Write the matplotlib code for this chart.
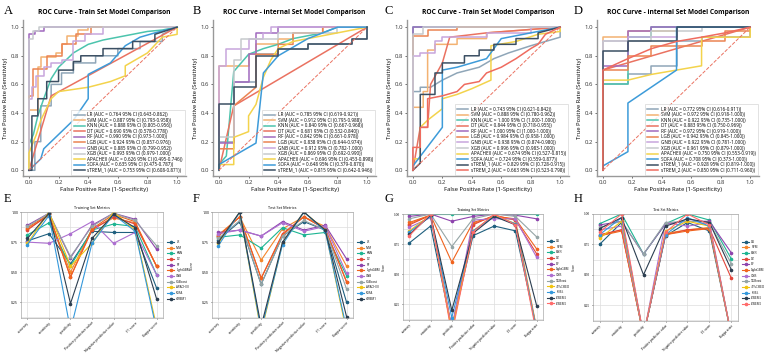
import matplotlib
matplotlib.use('Agg')
import matplotlib.pyplot as plt
from matplotlib.ticker import MultipleLocator

# ---------------- ROC data (vertices) ----------------
roc_models_11 = ['LR', 'SVM', 'KNN', 'DT', 'RF', 'LGB', 'GNB', 'XGB', 'APACHEII', 'SOFA', 'sTREM_1']
roc_models_12 = roc_models_11 + ['sTREM_2']
roc_colors = ['#8fa6b8', '#f3b272', '#4cc4ad', '#ea7261', '#a169be', '#eb8452',
              '#c8a6dc', '#c6cacd', '#f3d34c', '#3d9bd9', '#3b4f63', '#ef6b5f']

a_auc = ['0.764', '0.887', '0.888', '0.690', '0.990', '0.924', '0.885', '0.993', '0.626', '0.635', '0.753']
a_ci = ['0.643-0.862', '0.793-0.958', '0.805-0.956', '0.578-0.778', '0.973-1.000', '0.857-0.976',
        '0.799-0.952', '0.979-1.000', '0.495-0.746', '0.475-0.787', '0.608-0.871']
b_auc = ['0.785', '0.912', '0.840', '0.681', '0.842', '0.838', '0.912', '0.869', '0.696', '0.648', '0.815']
b_ci = ['0.619-0.921', '0.795-0.988', '0.667-0.968', '0.532-0.840', '0.661-0.978', '0.644-0.974',
        '0.782-1.000', '0.692-0.990', '0.453-0.898', '0.379-0.870', '0.642-0.946']
c_auc = ['0.743', '0.888', '1.000', '0.844', '1.000', '0.984', '0.938', '0.996', '0.674', '0.724', '0.829', '0.663']
c_ci = ['0.621-0.842', '0.780-0.962', '1.000-1.000', '0.718-0.955', '1.000-1.000', '0.958-1.000',
        '0.874-0.980', '0.983-1.000', '0.527-0.815', '0.559-0.877', '0.728-0.915', '0.523-0.798']
d_auc = ['0.772', '0.972', '0.922', '0.883', '0.972', '0.942', '0.922', '0.961', '0.750', '0.708', '0.928', '0.850']
d_ci = ['0.616-0.911', '0.918-1.000', '0.735-1.000', '0.750-0.969', '0.919-1.000', '0.845-1.000',
        '0.781-1.000', '0.879-1.000', '0.553-0.919', '0.373-1.000', '0.819-1.000', '0.711-0.960']

roc_a = [
    [[0, 0], [0.04, 0], [0.04, 0.2], [0.08, 0.2], [0.08, 0.45], [0.15, 0.45], [0.15, 0.6], [0.22, 0.6], [0.22, 0.68], [0.3, 0.68], [0.3, 0.75], [0.45, 0.75], [0.45, 0.8], [0.6, 0.8], [0.6, 0.85], [0.75, 0.85], [0.75, 0.9], [0.9, 0.9], [0.9, 0.95], [1, 1]],
    [[0, 0], [0, 0.42], [0.06, 0.42], [0.06, 0.72], [0.08, 0.72], [0.08, 0.79], [0.18, 0.79], [0.18, 0.82], [0.22, 0.82], [0.22, 0.88], [0.26, 0.88], [0.26, 0.94], [0.33, 0.94], [0.33, 0.98], [0.4, 0.98], [0.4, 1], [1, 1]],
    [[0, 0], [0, 0.18], [0.03, 0.25], [0.06, 0.38], [0.1, 0.5], [0.15, 0.64], [0.2, 0.72], [0.25, 0.77], [0.3, 0.82], [0.4, 0.88], [0.5, 0.91], [0.6, 0.93], [0.7, 0.95], [0.8, 0.97], [0.9, 0.98], [1, 1]],
    [[0, 0], [0.15, 0.52], [1, 1]],
    [[0, 0], [0, 0.95], [0.04, 0.95], [0.04, 0.97], [0.1, 0.97], [0.1, 1], [1, 1]],
    [[0, 0], [0, 0.52], [0.03, 0.52], [0.03, 0.71], [0.12, 0.71], [0.12, 0.8], [0.22, 0.8], [0.22, 0.88], [0.32, 0.88], [0.32, 0.95], [0.42, 0.95], [0.42, 1], [1, 1]],
    [[0, 0], [0, 0.5], [0.02, 0.5], [0.02, 0.58], [0.05, 0.58], [0.05, 0.66], [0.1, 0.66], [0.1, 0.72], [0.15, 0.72], [0.15, 0.75], [0.22, 0.75], [0.22, 0.77], [0.3, 0.77], [0.3, 0.9], [0.38, 0.9], [0.38, 0.95], [0.5, 0.95], [0.5, 1], [1, 1]],
    [[0, 0], [0, 0.92], [0.03, 0.92], [0.03, 0.97], [0.07, 0.97], [0.07, 1], [1, 1]],
    [[0, 0], [0, 0.12], [0.05, 0.25], [0.08, 0.35], [0.15, 0.5], [0.2, 0.55], [0.4, 0.58], [0.55, 0.62], [0.65, 0.66], [0.65, 0.73], [0.8, 0.82], [0.9, 0.93], [1, 0.95], [1, 1]],
    [[0, 0], [0.08, 0.08], [0.1, 0.15], [0.2, 0.25], [0.3, 0.35], [0.4, 0.5], [0.4, 0.67], [0.55, 0.75], [0.65, 0.87], [0.75, 0.93], [0.85, 0.96], [1, 1]],
    [[0, 0], [0.02, 0], [0.02, 0.38], [0.06, 0.38], [0.06, 0.5], [0.12, 0.5], [0.12, 0.62], [0.2, 0.62], [0.2, 0.7], [0.3, 0.7], [0.3, 0.76], [0.35, 0.76], [0.35, 0.8], [0.5, 0.8], [0.5, 0.85], [0.7, 0.85], [0.7, 0.9], [0.85, 0.9], [0.85, 0.95], [1, 1]],
]

roc_b = [
    [[0, 0], [0, 0.2], [0.1, 0.2], [0.1, 0.62], [0.25, 0.62], [0.25, 0.81], [0.4, 0.81], [0.4, 0.85], [0.6, 0.85], [0.6, 0.88], [0.9, 0.88], [0.9, 0.92], [1, 0.92], [1, 1]],
    [[0, 0], [0, 0.73], [0.2, 0.73], [0.2, 0.81], [0.25, 0.81], [0.25, 0.88], [0.4, 0.88], [0.4, 0.92], [0.5, 0.92], [0.5, 0.96], [0.7, 0.96], [0.7, 1], [1, 1]],
    [[0, 0], [0, 0.04], [0.05, 0.1], [0.1, 0.69], [0.2, 0.81], [0.3, 0.85], [0.4, 0.88], [0.5, 0.92], [0.7, 0.96], [0.8, 1], [1, 1]],
    [[0, 0], [0.1, 0.45], [1, 1]],
    [[0, 0], [0, 0.19], [0.1, 0.19], [0.1, 0.62], [0.2, 0.62], [0.2, 0.81], [0.25, 0.81], [0.25, 0.96], [0.4, 0.96], [0.4, 1], [1, 1]],
    [[0, 0], [0, 0.15], [0.1, 0.15], [0.1, 0.45], [0.25, 0.58], [0.25, 0.81], [0.4, 0.81], [0.4, 0.88], [0.5, 0.88], [0.5, 0.96], [0.7, 0.96], [0.7, 1], [1, 1]],
    [[0, 0], [0, 0.73], [0.05, 0.73], [0.05, 0.85], [0.2, 0.85], [0.2, 0.92], [0.3, 0.92], [0.3, 0.96], [0.35, 0.96], [0.35, 1], [1, 1]],
    [[0, 0], [0, 0.23], [0.1, 0.23], [0.1, 0.77], [0.15, 0.77], [0.15, 0.92], [0.4, 0.92], [0.4, 0.96], [0.8, 0.96], [0.8, 1], [1, 1]],
    [[0, 0], [0, 0.04], [0.1, 0.04], [0.1, 0.23], [0.2, 0.27], [0.2, 0.38], [0.25, 0.46], [0.3, 0.65], [0.35, 0.77], [0.4, 0.85], [0.5, 0.9], [0.6, 0.92], [0.8, 0.96], [1, 1]],
    [[0, 0], [0, 0.04], [0.25, 0.19], [0.3, 0.68], [0.4, 0.8], [0.5, 0.86], [0.6, 0.92], [0.7, 0.96], [0.8, 1], [1, 1]],
    [[0, 0], [0, 0.46], [0.1, 0.46], [0.1, 0.58], [0.25, 0.58], [0.25, 0.8], [0.4, 0.8], [0.4, 0.85], [0.6, 0.85], [0.6, 0.88], [0.9, 0.88], [0.9, 0.92], [1, 0.92], [1, 1]],
]

roc_c = [
    [[0, 0], [0, 0.55], [0.05, 0.55], [0.05, 0.58], [0.12, 0.58], [0.2, 0.63], [0.3, 0.68], [0.45, 0.72], [0.55, 0.78], [0.65, 0.82], [0.8, 0.87], [0.9, 0.9], [1, 0.93], [1, 1]],
    [[0, 0], [0, 0.44], [0.07, 0.44], [0.07, 0.55], [0.1, 0.55], [0.1, 0.84], [0.15, 0.84], [0.15, 0.88], [0.3, 0.88], [0.3, 0.92], [0.5, 0.92], [0.5, 0.96], [1, 1]],
    [[0, 0], [0, 1], [1, 1]],
    [[0, 0], [0.05, 0.3], [0.1, 0.3], [0.12, 0.6], [0.2, 0.75], [0.25, 0.93], [0.5, 0.96], [1, 1]],
    [[0, 0], [0, 1], [1, 1]],
    [[0, 0], [0, 0.94], [0.1, 0.94], [0.1, 0.98], [0.3, 0.98], [0.3, 1], [1, 1]],
    [[0, 0], [0, 0.8], [0.05, 0.8], [0.05, 0.82], [0.15, 0.82], [0.15, 0.9], [0.2, 0.9], [0.2, 0.93], [0.5, 0.93], [0.5, 0.96], [0.8, 0.96], [0.8, 1], [1, 1]],
    [[0, 0], [0, 0.95], [0.07, 0.95], [0.07, 1], [1, 1]],
    [[0, 0], [0, 0.08], [0.05, 0.08], [0.05, 0.3], [0.1, 0.35], [0.2, 0.43], [0.2, 0.5], [0.3, 0.53], [0.4, 0.57], [0.53, 0.63], [0.53, 0.87], [0.7, 0.9], [0.85, 0.95], [1, 0.97], [1, 1]],
    [[0, 0], [0, 0.03], [0.2, 0.3], [0.2, 0.7], [0.3, 0.72], [0.4, 0.75], [0.5, 0.78], [0.6, 0.92], [0.7, 0.94], [0.8, 0.96], [1, 1]],
    [[0, 0], [0.05, 0.05], [0.05, 0.53], [0.15, 0.53], [0.15, 0.68], [0.2, 0.68], [0.2, 0.75], [0.35, 0.75], [0.35, 0.8], [0.45, 0.8], [0.45, 0.84], [0.55, 0.84], [0.55, 0.88], [0.7, 0.88], [0.7, 0.92], [0.85, 0.92], [0.85, 0.96], [1, 1]],
    [[0, 0], [0, 0.16], [0.05, 0.16], [0.05, 0.3], [0.1, 0.3], [0.1, 0.5], [0.2, 0.52], [0.3, 0.55], [0.35, 0.6], [0.45, 0.62], [0.5, 0.68], [0.6, 0.72], [0.7, 0.78], [0.8, 0.85], [0.85, 0.88], [0.9, 0.95], [1, 1]],
]

roc_d = [
    [[0, 0], [0, 0.6], [0.17, 0.6], [0.17, 0.67], [0.33, 0.67], [0.33, 0.73], [0.5, 0.73], [0.5, 0.9], [0.67, 0.9], [0.67, 0.93], [1, 0.93], [1, 1]],
    [[0, 0], [0, 0.93], [0.17, 0.93], [0.17, 0.97], [0.5, 0.97], [0.5, 1], [1, 1]],
    [[0, 0], [0, 0.6], [0.17, 0.6], [0.17, 0.93], [0.33, 0.93], [0.33, 1], [1, 1]],
    [[0, 0], [0, 0.7], [1, 1]],
    [[0, 0], [0, 0.73], [0.17, 0.73], [0.17, 0.97], [0.33, 0.97], [0.33, 1], [1, 1]],
    [[0, 0], [0, 0.7], [0.17, 0.7], [0.17, 0.8], [0.33, 0.8], [0.33, 0.87], [0.67, 0.87], [0.67, 0.9], [0.83, 0.9], [0.83, 0.97], [1, 0.97], [1, 1]],
    [[0, 0], [0, 0.9], [0.17, 0.9], [0.17, 0.93], [0.5, 0.93], [0.5, 1], [1, 1]],
    [[0, 0], [0, 0.9], [0.33, 0.9], [0.33, 0.97], [0.67, 0.97], [0.67, 1], [1, 1]],
    [[0, 0], [0, 0.63], [0.17, 0.63], [0.33, 0.67], [0.5, 0.7], [0.67, 0.73], [0.67, 0.93], [1, 0.93], [1, 1]],
    [[0, 0], [0, 0.03], [0.17, 0.13], [0.17, 0.47], [0.5, 0.7], [0.5, 1], [1, 1]],
    [[0, 0], [0, 0.83], [0.17, 0.83], [0.17, 0.9], [0.5, 0.9], [0.5, 1], [1, 1]],
    [[0, 0], [0, 0.7], [0.17, 0.78], [0.33, 0.85], [0.5, 0.9], [0.67, 0.93], [0.83, 0.96], [1, 1]],
]

# ---------------- metric data ----------------
metric_names = ['accuracy', 'sensitivity', 'specificity', 'Positive predictive value',
                'Negative predictive value', 'F1 score', 'Kappa score']
met_models_11 = ['LR', 'SVM', 'KNN', 'DT', 'RF', 'LightGBM', 'GNB', 'XGBoost', 'APACHEII', 'SOFA', 'sTREM1']
met_models_12 = met_models_11 + ['sTREM2']
met_colors = ['#1f5f7e', '#f5862b', '#1db592', '#e2453a', '#8e44ad', '#f0631e',
              '#ad6fd0', '#95a5a6', '#f1c40f', '#3498db', '#2c3e50', '#ff6b6b']

e_vals = [
    [0.76, 0.82, 0.57, 0.84, 0.83, 0.83, 0.37],
    [0.86, 0.97, 0.50, 0.86, 0.95, 0.91, 0.55],
    [0.81, 0.91, 0.55, 0.85, 0.90, 0.88, 0.48],
    [0.85, 0.98, 0.46, 0.85, 0.96, 0.90, 0.55],
    [0.89, 0.99, 0.62, 0.89, 0.99, 0.94, 0.69],
    [0.87, 0.98, 0.46, 0.86, 0.98, 0.92, 0.55],
    [0.75, 0.74, 0.82, 0.92, 0.74, 0.83, 0.48],
    [0.88, 0.99, 0.63, 0.88, 0.99, 0.93, 0.72],
    [0.74, 1.00, 0.55, 0.74, 1.00, 0.85, 0.05],
    [0.73, 0.97, 0.02, 0.74, 0.98, 0.84, 0.02],
    [0.78, 0.99, 0.24, 0.78, 0.98, 0.87, 0.28],
]
f_vals = [
    [0.77, 0.92, 0.40, 0.80, 0.92, 0.85, 0.25],
    [0.81, 0.96, 0.60, 0.86, 0.96, 0.88, 0.55],
    [0.79, 0.81, 0.70, 0.87, 0.81, 0.83, 0.47],
    [0.80, 0.96, 0.45, 0.82, 0.96, 0.86, 0.42],
    [0.83, 0.85, 0.80, 0.92, 0.85, 0.89, 0.61],
    [0.80, 0.96, 0.45, 0.81, 0.96, 0.86, 0.42],
    [0.82, 0.85, 0.80, 0.91, 0.84, 0.88, 0.49],
    [0.78, 0.93, 0.40, 0.80, 0.93, 0.85, 0.36],
    [0.74, 1.00, 0.00, 0.74, 1.00, 0.85, 0.00],
    [0.72, 1.00, 0.02, 0.73, 1.00, 0.84, 0.03],
    [0.75, 1.00, 0.05, 0.75, 1.00, 0.85, 0.13],
]
g_vals = [
    [0.76, 0.90, 0.05, 0.82, 0.90, 0.86, 0.05],
    [0.92, 0.99, 0.03, 0.92, 0.98, 0.95, 0.05],
    [1.00, 1.00, 1.00, 1.00, 1.00, 1.00, 1.00],
    [0.91, 0.99, 0.05, 0.91, 0.99, 0.95, 0.67],
    [0.98, 1.00, 0.94, 0.98, 1.00, 0.99, 0.96],
    [0.93, 0.99, 0.60, 0.93, 0.98, 0.96, 0.71],
    [0.89, 0.97, 0.05, 0.95, 0.96, 0.96, 0.64],
    [0.96, 1.00, 0.73, 0.96, 1.00, 0.98, 0.81],
    [0.86, 0.99, 0.02, 0.86, 0.99, 0.92, 0.02],
    [0.85, 0.98, 0.14, 0.86, 0.98, 0.92, 0.03],
    [0.83, 0.99, 0.20, 0.84, 0.98, 0.91, 0.24],
    [0.82, 1.00, 0.00, 0.85, 1.00, 0.91, 0.00],
]
h_vals = [
    [0.75, 0.93, 0.00, 0.82, 0.93, 0.86, 0.00],
    [0.82, 0.87, 0.00, 0.84, 0.87, 0.89, 0.00],
    [0.92, 1.00, 0.67, 0.92, 1.00, 0.95, 0.63],
    [0.83, 0.87, 0.00, 0.83, 0.87, 0.88, 0.47],
    [0.91, 0.94, 0.67, 0.92, 0.94, 0.94, 0.68],
    [0.82, 0.86, 0.00, 0.83, 0.86, 0.88, 0.00],
    [0.87, 0.90, 0.00, 0.93, 0.90, 0.93, 0.00],
    [0.89, 0.94, 0.67, 0.93, 0.94, 0.93, 0.59],
    [0.80, 0.94, 0.00, 0.86, 0.94, 0.90, 0.00],
    [0.83, 0.97, 0.00, 0.83, 0.97, 0.90, 0.00],
    [0.88, 0.97, 0.50, 0.90, 0.96, 0.93, 0.54],
    [0.85, 1.00, 0.00, 0.85, 1.00, 0.91, 0.00],
]

W, H = 767, 353
fig = plt.figure(figsize=(W / 100, H / 100), dpi=100)


def box(l, t, r, b):
    return fig.add_axes([l / W, 1 - b / H, (r - l) / W, (b - t) / H])


sans = ['Open Sans', 'DejaVu Sans']
serif = ['Liberation Serif', 'DejaVu Serif']


def roc_panel(ax, curves, models, aucs, cis, title):
    for pts, m, c, auc, ci in zip(curves, models, roc_colors, aucs, cis):
        xs = [p[0] for p in pts]
        ys = [p[1] for p in pts]
        ax.plot(xs, ys, color=c, lw=1.1, label=f'{m} (AUC = {auc} 95% CI ({ci}))')
    ax.plot([0, 1], [0, 1], color='#ea7261', lw=0.7, ls='--')
    ax.set_xlim(-0.04, 1.06)
    ax.set_ylim(-0.04, 1.05)
    ax.set_xticks([0, 0.2, 0.4, 0.6, 0.8, 1.0])
    ax.set_yticks([0, 0.2, 0.4, 0.6, 0.8, 1.0])
    ax.tick_params(labelsize=4.3, length=1.5, width=0.5, pad=1.5, colors='#333333')
    for lab in ax.get_xticklabels() + ax.get_yticklabels():
        lab.set_family(sans)
    for s in ['top', 'right']:
        ax.spines[s].set_visible(False)
    for s in ['left', 'bottom']:
        ax.spines[s].set_color('#999999')
        ax.spines[s].set_linewidth(1.0)
    ax.set_title(title, fontsize=4.8, fontweight='bold', family=sans, pad=4)
    ax.set_xlabel('False Positive Rate (1-Specificity)', fontsize=4.2, family=sans, labelpad=1.5)
    ax.set_ylabel('True Positive Rate (Sensitivity)', fontsize=4.2, family=sans, labelpad=2)
    leg = ax.legend(loc='lower right', fontsize=3.3, handlelength=2.4, labelspacing=0.12,
                    borderpad=0.5, borderaxespad=0.2, handletextpad=0.6,
                    frameon=True, fancybox=False)
    leg.get_frame().set_edgecolor('#cccccc')
    leg.get_frame().set_linewidth(0.5)
    for t in leg.get_texts():
        t.set_family(sans)


def metric_panel(ax, vals, models, title, fam, ylabel):
    x = list(range(len(metric_names)))
    for v, m, c in zip(vals, models, met_colors):
        ax.plot(x, v, color=c, lw=0.8, marker='o', ms=1.6, label=m)
    ax.set_ylim(0.12, 1.0)
    ax.set_xticks(x)
    ax.set_xticklabels(metric_names, rotation=45, ha='right', rotation_mode='anchor',
                       fontsize=2.5, family=fam)
    ax.yaxis.set_major_locator(MultipleLocator(0.25))
    ax.yaxis.set_minor_locator(MultipleLocator(0.125))
    ax.tick_params(axis='y', labelsize=2.5, length=1, width=0.4, pad=1)
    ax.tick_params(axis='x', length=1, width=0.4, pad=1)
    ax.tick_params(which='minor', length=0)
    for lab in ax.get_yticklabels():
        lab.set_family(fam)
    ax.grid(True, which='both', color='#dddddd', lw=0.5)
    ax.set_axisbelow(True)
    for s in ax.spines.values():
        s.set_color('#aaaaaa')
        s.set_linewidth(0.5)
    ax.set_title(title, fontsize=2.8, family=fam, pad=2)
    if ylabel:
        ax.set_ylabel('Score', fontsize=2.5, family=fam, labelpad=6)
    leg = ax.legend(loc='center left', bbox_to_anchor=(1.01, 0.45), fontsize=2.2,
                    frameon=False, handlelength=2.2, labelspacing=0.55)
    for t in leg.get_texts():
        t.set_family(fam)


ax_a = box(23, 20, 186, 176)
ax_b = box(213, 20, 376, 176)
ax_c = box(407, 20, 569, 176)
ax_d = box(597, 20, 759, 176)
roc_panel(ax_a, roc_a, roc_models_11, a_auc, a_ci, 'ROC Curve - Train Set Model Comparison')
roc_panel(ax_b, roc_b, roc_models_11, b_auc, b_ci, 'ROC Curve - internal Set Model Comparison')
roc_panel(ax_c, roc_c, roc_models_12, c_auc, c_ci, 'ROC Curve - Train Set Model Comparison')
roc_panel(ax_d, roc_d, roc_models_12, d_auc, d_ci, 'ROC Curve - internal Set Model Comparison')

ax_e = box(21, 212, 163, 318)
ax_f = box(212, 212, 353, 318)
ax_g = box(403, 214, 543, 320)
ax_h = box(593, 214, 738, 321)
metric_panel(ax_e, e_vals, met_models_11, 'Training Set Metrics', sans, False)
metric_panel(ax_f, f_vals, met_models_11, 'Test Set Metrics', sans, True)
metric_panel(ax_g, g_vals, met_models_12, 'Training Set Metrics', serif, True)
metric_panel(ax_h, h_vals, met_models_12, 'Test Set Metrics', serif, True)

for lbl, x, y in [('A', 4, 14), ('B', 193, 14), ('C', 384, 14), ('D', 574, 14),
                  ('E', 4, 202), ('F', 193, 202), ('G', 384, 202), ('H', 574, 202)]:
    fig.text(x / W, 1 - y / H, lbl, fontsize=9, family=serif, va='baseline')

fig.savefig('out.png', dpi=100)
